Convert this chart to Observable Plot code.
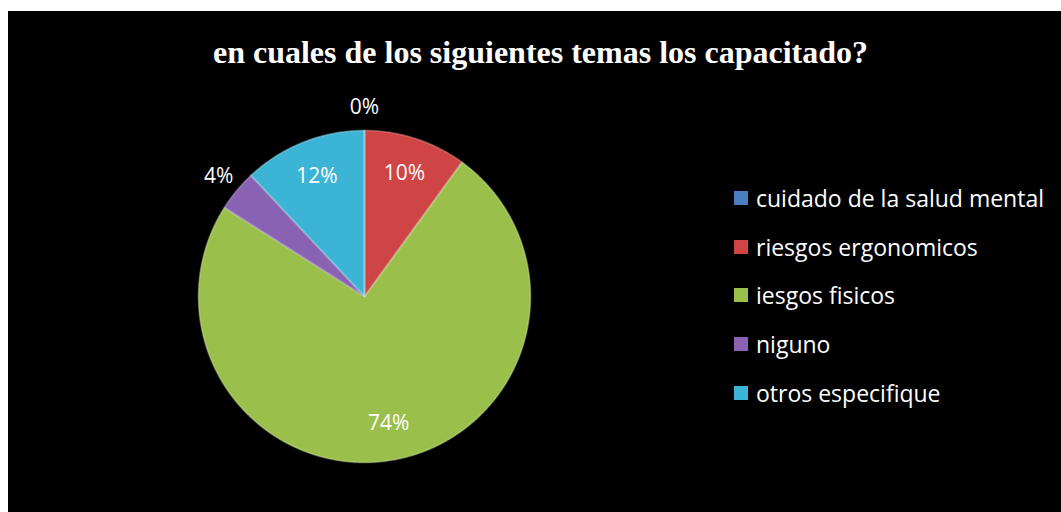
<!DOCTYPE html>
<html><head><meta charset="utf-8">
<script src="https://cdn.jsdelivr.net/npm/d3@7"></script>
<script src="https://cdn.jsdelivr.net/npm/@observablehq/plot@0.6"></script>
<style>
html,body{margin:0;padding:0;background:#fff;width:1061px;height:512px;overflow:hidden}
#frame{position:absolute;left:8px;top:11px;width:1053px;height:501px;background:#000}
#title{position:absolute;left:0;width:1065px;top:25px;line-height:32px;text-align:center;font-family:"Liberation Serif";font-weight:bold;font-size:32px;color:#fff;white-space:nowrap}
#chart{position:absolute;left:0;top:0}
#legend{position:absolute;left:726px;top:163px;width:330px}
#legend > div{margin:0 !important;font-family:"Open Sans" !important;font-size:23px !important;color:#fff !important}
#legend > div > div{height:48.6px;margin:0 !important;padding:0 !important}
#legend svg{margin-right:8px !important}
</style></head><body>
<div id="frame"><div id="chart"></div><div id="title">en cuales de los siguientes temas los capacitado?</div><div id="legend"></div></div>
<script>
const categories = ["cuidado de la salud mental","riesgos ergonomicos","iesgos fisicos","niguno","otros especifique"];
const values = [0, 10, 74, 4, 12];
const labels = ["0%", "10%", "74%", "4%", "12%"];
const colors = ["#4A7EC0", "#CF4444", "#9BBF4B", "#8A62B4", "#3CB4D6"];

const arcs = d3.pie().sort(null).value(d => d)(values);
const pts = [];
const labs = [];
arcs.forEach((a, i) => {
  const cat = categories[i];
  pts.push({cat, x: 0, y: 0});
  const n = Math.max(2, Math.ceil((a.endAngle - a.startAngle) / 0.01));
  for (let k = 0; k <= n; k++) {
    const t = a.startAngle + (a.endAngle - a.startAngle) * k / n;
    pts.push({cat, x: Math.sin(t), y: Math.cos(t)});
  }
  pts.push({cat, x: 0, y: 0});
  const mid = (a.startAngle + a.endAngle) / 2;
  const r = values[i] < 5 ? 1.14 : 0.78;
  labs.push({text: labels[i], x: r * Math.sin(mid), y: r * Math.cos(mid)});
});

const chart = Plot.plot({
  width: 1053, height: 501, margin: 0,
  style: {background: "transparent"},
  x: {domain: [-1, 1], range: [190, 522], axis: null},
  y: {domain: [-1, 1], range: [451, 119], axis: null},
  color: {domain: categories, range: colors},
  marks: [
    Plot.line(pts, {x: "x", y: "y", z: "cat", fill: "cat", stroke: "cat", strokeWidth: 0.5}),
    Plot.line(pts, {x: "x", y: "y", z: "cat", stroke: "white", strokeOpacity: 0.18, strokeWidth: 2}),
    Plot.text(labs, {x: "x", y: "y", text: "text", fill: "white", fontSize: 21, fontFamily: "Open Sans"})
  ]
});
document.getElementById("chart").appendChild(chart);

const legend = Plot.legend({
  color: {domain: categories, range: colors},
  legend: "swatches", columns: 1, swatchSize: 14
});
document.getElementById("legend").appendChild(legend);
</script></body></html>
